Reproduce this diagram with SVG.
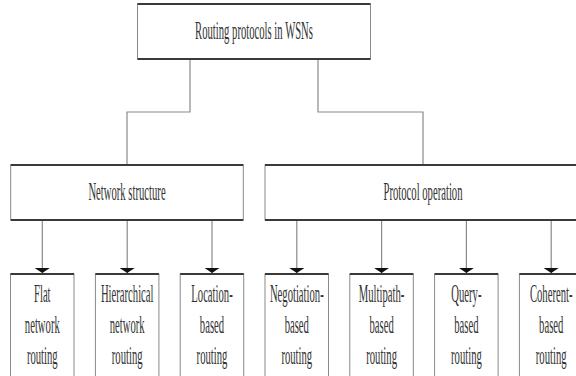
<svg xmlns="http://www.w3.org/2000/svg" width="576" height="376" viewBox="0 0 576 376">
<defs>
<style>
.box{fill:#fff;stroke:#8a8a8a;stroke-width:1}
.edge{stroke:#3a3a3a;stroke-width:1.8;fill:none}
.conn{stroke:#8a8a8a;stroke-width:1.2;fill:none}
.t{font-family:"Liberation Serif","Times New Roman",serif;font-size:26px;fill:#333;text-anchor:middle}
</style>
<marker id="arr" viewBox="0 0 5 15" refX="5" refY="7.5" markerWidth="5" markerHeight="15" markerUnits="userSpaceOnUse" orient="auto"><path d="M0,0 L5,7.5 L0,15 Z" fill="#111"/></marker>
</defs>
<rect width="576" height="376" fill="#fff"/>
<g id="connectors">
<path class="conn" d="M190,59 V112 H127 V165"/>
<path class="conn" d="M318,59 V112 H423 V165"/>
<path class="conn" d="M42.3,220 V273" marker-end="url(#arr)"/>
<path class="conn" d="M127.2,220 V273" marker-end="url(#arr)"/>
<path class="conn" d="M212,220 V273" marker-end="url(#arr)"/>
<path class="conn" d="M296.8,220 V273" marker-end="url(#arr)"/>
<path class="conn" d="M381.6,220 V273" marker-end="url(#arr)"/>
<path class="conn" d="M466.4,220 V273" marker-end="url(#arr)"/>
<path class="conn" d="M551.2,220 V273" marker-end="url(#arr)"/>
</g>
<g id="root">
<rect class="box" x="137.5" y="4" width="233" height="55"/>
<path class="edge" d="M137.5,4 H370.5 M137.5,59 H370.5"/>
<text class="t" transform="translate(254,39) scale(0.41,1)">Routing protocols in WSNs</text>
</g>
<g id="network-structure">
<rect class="box" x="10.7" y="165" width="232.6" height="55"/>
<path class="edge" d="M10.7,165 H243.3 M10.7,220 H243.3"/>
<text class="t" transform="translate(127,200) scale(0.41,1)">Network structure</text>
</g>
<g id="protocol-operation">
<rect class="box" x="265" y="165" width="320" height="55"/>
<path class="edge" d="M265,165 H585 M265,220 H585"/>
<text class="t" transform="translate(423,200) scale(0.41,1)">Protocol operation</text>
</g>
<g id="flat">
<rect class="box" x="10.5" y="274" width="63.5" height="120"/>
<path class="edge" d="M10.5,274 H74"/>
<text class="t" transform="translate(42.3,302) scale(0.41,1)">Flat</text>
<text class="t" transform="translate(42.3,333) scale(0.41,1)">network</text>
<text class="t" transform="translate(42.3,364) scale(0.41,1)">routing</text>
</g>
<g id="hierarchical">
<rect class="box" x="95.4" y="274" width="63.5" height="120"/>
<path class="edge" d="M95.4,274 H158.9"/>
<text class="t" transform="translate(127.2,302) scale(0.41,1)">Hierarchical</text>
<text class="t" transform="translate(127.2,333) scale(0.41,1)">network</text>
<text class="t" transform="translate(127.2,364) scale(0.41,1)">routing</text>
</g>
<g id="location">
<rect class="box" x="180.2" y="274" width="63.5" height="120"/>
<path class="edge" d="M180.2,274 H243.7"/>
<text class="t" transform="translate(212,302) scale(0.41,1)">Location-</text>
<text class="t" transform="translate(212,333) scale(0.41,1)">based</text>
<text class="t" transform="translate(212,364) scale(0.41,1)">routing</text>
</g>
<g id="negotiation">
<rect class="box" x="265" y="274" width="63.5" height="120"/>
<path class="edge" d="M265,274 H328.5"/>
<text class="t" transform="translate(296.8,302) scale(0.41,1)">Negotiation-</text>
<text class="t" transform="translate(296.8,333) scale(0.41,1)">based</text>
<text class="t" transform="translate(296.8,364) scale(0.41,1)">routing</text>
</g>
<g id="multipath">
<rect class="box" x="349.8" y="274" width="63.5" height="120"/>
<path class="edge" d="M349.8,274 H413.3"/>
<text class="t" transform="translate(381.6,302) scale(0.41,1)">Multipath-</text>
<text class="t" transform="translate(381.6,333) scale(0.41,1)">based</text>
<text class="t" transform="translate(381.6,364) scale(0.41,1)">routing</text>
</g>
<g id="query">
<rect class="box" x="434.6" y="274" width="63.5" height="120"/>
<path class="edge" d="M434.6,274 H498.1"/>
<text class="t" transform="translate(466.4,302) scale(0.41,1)">Query-</text>
<text class="t" transform="translate(466.4,333) scale(0.41,1)">based</text>
<text class="t" transform="translate(466.4,364) scale(0.41,1)">routing</text>
</g>
<g id="coherent">
<rect class="box" x="519.4" y="274" width="63.5" height="120"/>
<path class="edge" d="M519.4,274 H582.9"/>
<text class="t" transform="translate(551.2,302) scale(0.41,1)">Coherent-</text>
<text class="t" transform="translate(551.2,333) scale(0.41,1)">based</text>
<text class="t" transform="translate(551.2,364) scale(0.41,1)">routing</text>
</g>
</svg>
